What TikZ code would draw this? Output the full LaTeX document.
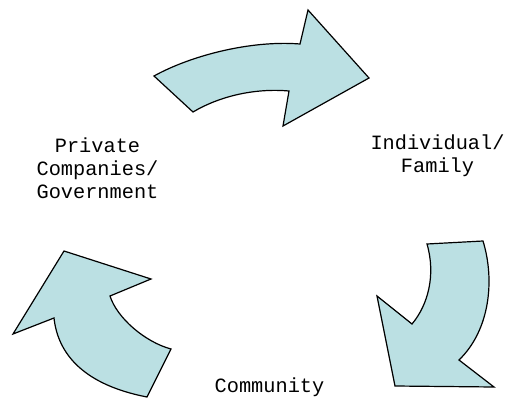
\documentclass[tikz,border=0pt]{standalone}
\usepackage{fontspec}
\setmonofont{Liberation Mono}
\definecolor{arrowfill}{RGB}{187,224,227}
\begin{document}
\begin{tikzpicture}[x=1pt,y=-1pt,
  cyclearrow/.style={draw=black,fill=arrowfill,line width=1.2pt,line join=miter},
  label/.style={font=\ttfamily\fontsize{20.3}{23}\selectfont,align=center,inner sep=0pt,anchor=base}]
\useasboundingbox (0,0) rectangle (508,398);
% top arrow
\draw[cyclearrow] (154,76) .. controls (190,56) and (250,40) .. (300,44)
  -- (308,10) -- (369,78) -- (283,126) -- (289,91)
  .. controls (255,88) and (220,96) .. (193,112) -- cycle;
% right arrow
\draw[cyclearrow] (427,244) -- (483,241) .. controls (495,280) and (490,330) .. (459,360)
  -- (494,387) -- (395,386) -- (377,296) -- (412,324)
  .. controls (428,305) and (436,275) .. (427,244) -- cycle;
% left arrow
\draw[cyclearrow] (147,397) -- (171,349) .. controls (145,342) and (117,318) .. (110,296)
  -- (151,279) -- (64,251) -- (13,334) -- (54,318)
  .. controls (58,355) and (85,385) .. (147,397) -- cycle;
% labels
\node[label] (ind) at (437.5,172) {Individual/\\Family};
\node[label] (pcg) at (97.5,198) {Private\\Companies/\\Government};
\node[label] (com) at (269.5,392) {Community};
\end{tikzpicture}
\end{document}
